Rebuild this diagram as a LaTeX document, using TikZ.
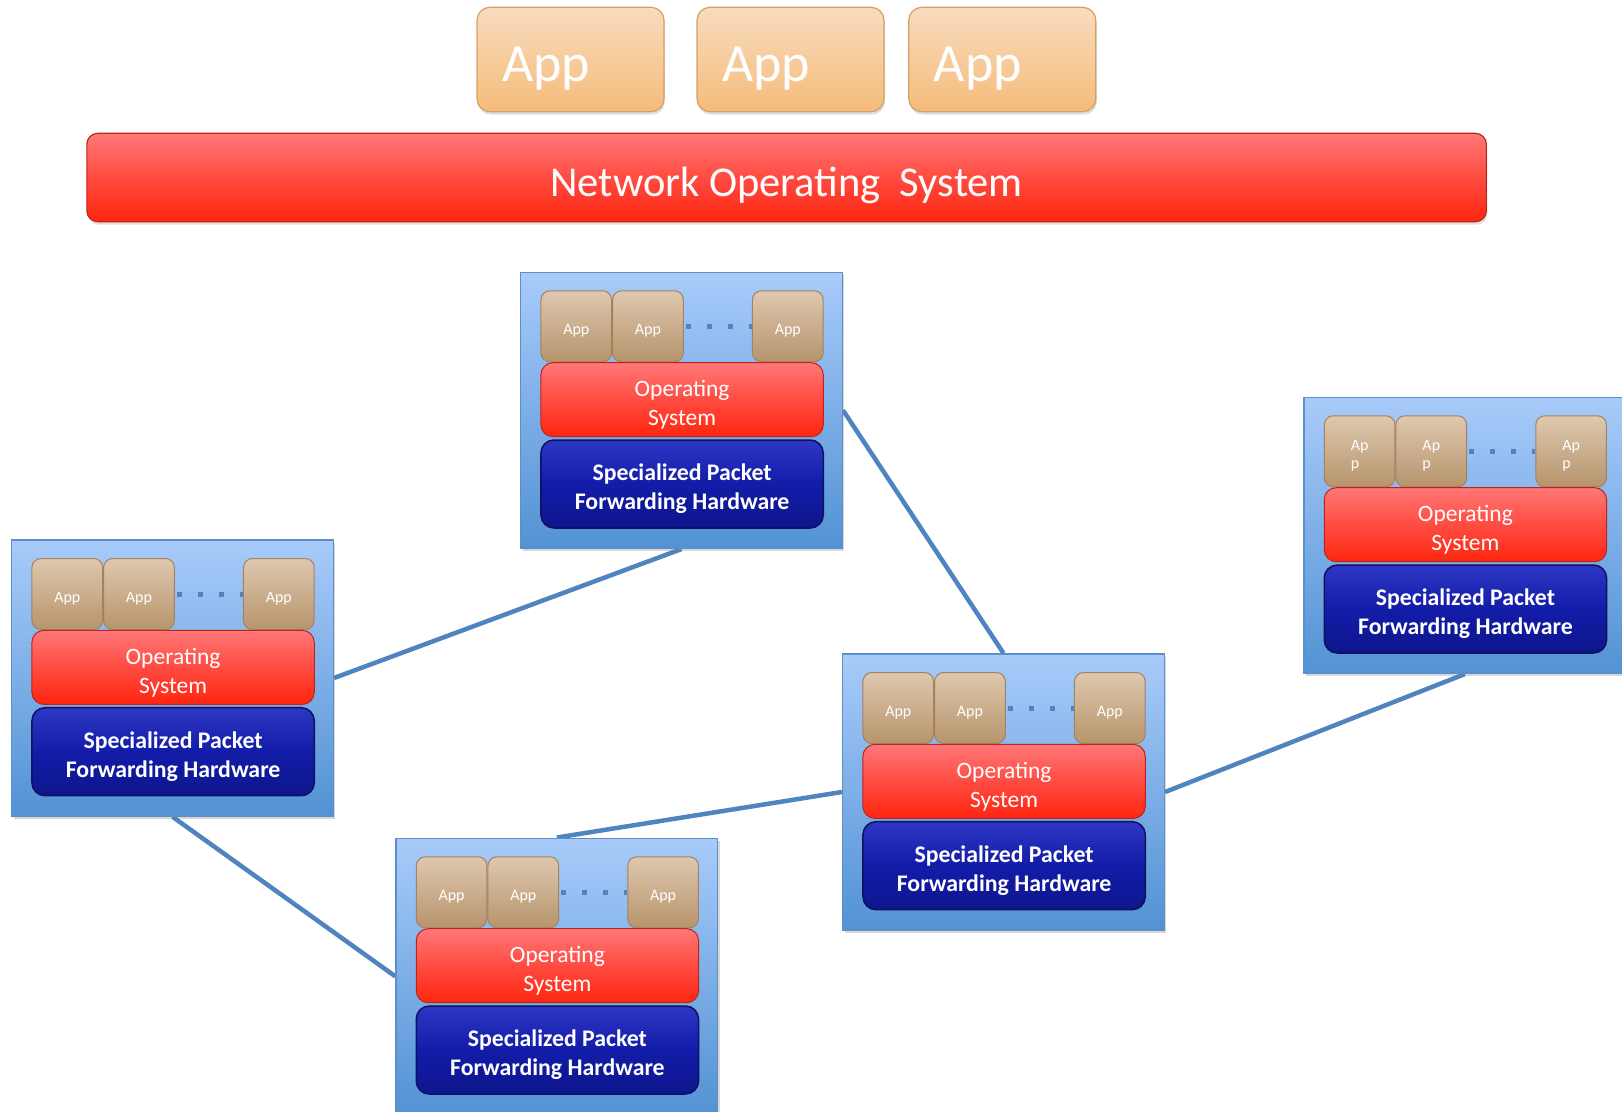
\documentclass[tikz,border=0pt]{standalone}
\usepackage{fontspec}
\setmainfont{Carlito}
\usetikzlibrary{shadows,backgrounds}
\definecolor{conttop}{RGB}{168,203,250}
\definecolor{contbot}{RGB}{82,146,212}
\definecolor{contb}{RGB}{92,142,200}
\definecolor{sapptop}{RGB}{222,200,175}
\definecolor{sappbot}{RGB}{183,148,108}
\definecolor{sappb}{RGB}{165,130,92}
\definecolor{ostop}{RGB}{255,120,120}
\definecolor{osmid}{RGB}{255,75,65}
\definecolor{osbot}{RGB}{255,38,15}
\definecolor{osb}{RGB}{190,35,25}
\definecolor{hwtop}{RGB}{45,55,195}
\definecolor{hwmid}{RGB}{18,28,168}
\definecolor{hwbot}{RGB}{14,22,140}
\definecolor{hwb}{RGB}{12,18,95}
\definecolor{taptop}{RGB}{248,220,190}
\definecolor{tapbot}{RGB}{245,188,122}
\definecolor{tapb}{RGB}{212,160,105}
\definecolor{linkc}{RGB}{80,132,192}
\newcommand\upsp[1]{\rule{0pt}{#1}}
\newcommand\swbox[4]{%
 \begin{scope}[shift={(#2,#3)}]
  \node[cont] (#1) at (160.8,138) {};
  \node[sapp] (#1a1) at (55.6,54) {\upsp{19pt}#4};
  \node[sapp] (#1a2) at (127.3,54) {\upsp{19pt}#4};
  \node[sapp] (#1a3) at (267.1,54) {\upsp{19pt}#4};
  \draw[dotline] (#1a2.east) -- (#1a3.west);
  \node[osbox] (#1os) at (161.4,127.4) {\upsp{26pt}Operating\\System};
  \node[hwbox] (#1hw) at (161.4,211.7) {\upsp{27pt}Specialized Packet\\Forwarding Hardware};
 \end{scope}}
\begin{document}
\begin{tikzpicture}[x=1pt,y=-1pt,
  cont/.style={draw=contb, line width=1.5pt, top color=conttop, bottom color=contbot,
    minimum width=321.6pt, minimum height=276pt, inner sep=0pt,
    drop shadow={shadow xshift=2pt, shadow yshift=-3pt, opacity=0.3}},
  sapp/.style={draw=sappb, line width=1pt, rounded corners=9pt, top color=sapptop, bottom color=sappbot,
    minimum width=70.7pt, minimum height=71pt, inner sep=0pt, text=white, align=left,
    font=\fontsize{16}{18}\selectfont},
  osbox/.style={draw=osb, line width=1pt, rounded corners=12pt, top color=ostop, bottom color=osbot, middle color=osmid,
    minimum width=282.3pt, minimum height=74pt, inner sep=0pt, text=white, align=center,
    font=\fontsize{23.5}{29}\selectfont},
  hwbox/.style={draw=hwb, line width=1.5pt, rounded corners=13pt, top color=hwtop, bottom color=hwbot, middle color=hwmid,
    minimum width=282.3pt, minimum height=88pt, inner sep=0pt, text=white, align=center,
    font=\bfseries\fontsize{23.8}{29}\selectfont},
  dotline/.style={draw=linkc, line width=5pt, dash pattern=on 5pt off 16pt, dash phase=-2pt},
  tapp/.style={draw=tapb, line width=1.2pt, rounded corners=13pt, top color=taptop, bottom color=tapbot,
    minimum width=187pt, minimum height=104.4pt, inner xsep=25pt, inner ysep=0pt, text width=137pt,
    text height=44pt, text depth=0pt, align=left, text=white, font=\fontsize{54}{60}\selectfont,
    drop shadow={shadow xshift=1pt, shadow yshift=-3pt, opacity=0.25}},
  nos/.style={draw=osb, line width=1.2pt, rounded corners=11pt, top color=ostop, bottom color=osbot, middle color=osmid,
    minimum width=1399.5pt, minimum height=88.4pt, inner sep=0pt, text height=37pt, text depth=0pt,
    text=white, font=\fontsize{42.5}{48}\selectfont,
    drop shadow={shadow xshift=1pt, shadow yshift=-3pt, opacity=0.25}},
  conn/.style={draw=linkc, line width=4.5pt}]
\useasboundingbox (0,0) rectangle (1622,1111);
\node[tapp] (app1) at (570.5,59.5) {App};
\node[tapp] (app2) at (790.5,59.5) {App};
\node[tapp] (app3) at (1002.3,59.5) {App};
\node[nos] (nos) at (786.6,177.5) {Network Operating\ \ System};
\swbox{tc}{520.7}{272.3}{App}
\swbox{l}{11.7}{540}{App}
\swbox{r}{1304}{397.3}{Ap\\p}
\swbox{mr}{842.7}{654}{App}
\swbox{b}{396}{838.3}{App}
\begin{pgfonlayer}{background}
\fill[white] (0,0) rectangle (1622,1111);
\draw[conn] (tc.south) -- (l.east);
\draw[conn] (tc.east) -- (mr.north);
\draw[conn] (l.south) -- (b.west);
\draw[conn] (b.north) -- (mr.west);
\draw[conn] (mr.east) -- (r.south);
\end{pgfonlayer}
\end{tikzpicture}
\end{document}
